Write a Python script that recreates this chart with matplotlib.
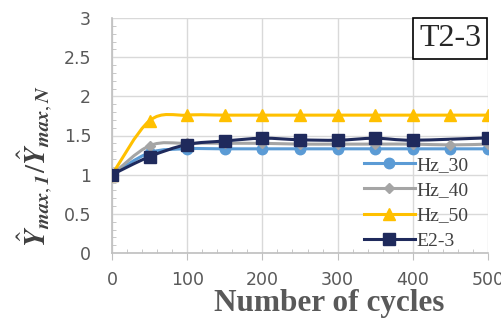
import numpy as np
import matplotlib
matplotlib.use("Agg")
import matplotlib.pyplot as plt
from matplotlib.path import Path
from matplotlib.patches import PathPatch
from matplotlib.lines import Line2D

plt.rcParams["mathtext.fontset"] = "stix"

cycles = [0, 50, 100, 150, 200, 250, 300, 350, 400, 450, 500]
hz_30 = [1.0, 1.28, 1.33, 1.33, 1.33, 1.33, 1.33, 1.33, 1.33, 1.33, 1.33]
hz_40 = [1.0, 1.37, 1.40, 1.40, 1.40, 1.39, 1.39, 1.39, 1.39, 1.38, 1.39]
hz_50 = [1.0, 1.69, 1.76, 1.76, 1.76, 1.76, 1.76, 1.76, 1.76, 1.76, 1.76]
e23_cycles = [0, 50, 100, 150, 200, 250, 300, 350, 400, 500]
e23 = [1.0, 1.23, 1.385, 1.43, 1.465, 1.445, 1.44, 1.465, 1.44, 1.47]


def smooth_path(xs, ys):
    # excel style smoothed line: catmull-rom turned into cubic beziers
    xs = np.asarray(xs, float)
    ys = np.asarray(ys, float)
    pts = np.column_stack([xs, ys])
    verts = [pts[0]]
    codes = [Path.MOVETO]
    n = len(pts)
    for i in range(n - 1):
        p0 = pts[max(i - 1, 0)]
        p1 = pts[i]
        p2 = pts[i + 1]
        p3 = pts[min(i + 2, n - 1)]
        c1 = p1 + (p2 - p0) / 6.0
        c2 = p2 - (p3 - p1) / 6.0
        verts += [c1, c2, p2]
        codes += [Path.CURVE4] * 3
    return Path(verts, codes)


fig = plt.figure(figsize=(5.01, 3.2), dpi=100)
ax = fig.add_axes([112 / 501, 1 - 253 / 320, 376 / 501, 235 / 320])

series = [
    (cycles, hz_30, "Hz_30", "#5B9BD5", "o", 7.5),
    (cycles, hz_40, "Hz_40", "#A5A5A5", "D", 5),
    (cycles, hz_50, "Hz_50", "#FFC000", "^", 8),
    (e23_cycles, e23, "E2-3", "#1F2A5C", "s", 8),
]

handles = []
for xs, ys, name, col, mk, ms in series:
    ax.add_patch(PathPatch(smooth_path(xs, ys), facecolor="none",
                           edgecolor=col, lw=2.2, zorder=3))
    ax.plot(xs, ys, linestyle="none", marker=mk, ms=ms, color=col, zorder=4)
    handles.append(Line2D([], [], color=col, lw=2.2, marker=mk, ms=ms))

ax.set_xlim(0, 500)
ax.set_ylim(0, 3)
ax.set_xticks(range(0, 501, 100))
ax.set_yticks(np.arange(0, 3.01, 0.5))
ax.set_yticklabels(["0", "0.5", "1", "1.5", "2", "2.5", "3"])
ax.set_xticks(range(0, 501, 20), minor=True)
ax.set_yticks(np.arange(0, 3.01, 0.1), minor=True)
ax.grid(True, which="major", color="#D9D9D9", lw=1)
ax.set_axisbelow(True)
for s in ["top", "right"]:
    ax.spines[s].set_visible(False)
for s in ["left", "bottom"]:
    ax.spines[s].set_color("#BFBFBF")
    ax.spines[s].set_linewidth(1.2)
ax.tick_params(which="major", axis="both", colors="#BFBFBF", labelcolor="#595959",
               labelsize=12.5, length=0)
ax.tick_params(which="major", axis="x", length=5, pad=8)
ax.tick_params(which="major", axis="y", pad=15)
ax.tick_params(which="minor", direction="in", length=3, colors="#BFBFBF")

ax.set_xlabel("Number of cycles", family="Liberation Serif", fontweight="bold",
              fontsize=22.5, color="#595959", labelpad=0)
ax.xaxis.set_label_coords(0.577, -0.215)
ax.xaxis.label.set_verticalalignment("center")
ax.set_ylabel(r"$\hat{\mathbfit{Y}}_{\mathbfit{max},\mathbfit{1}}/"
              r"\hat{\mathbfit{Y}}_{\mathbfit{max},\mathbfit{N}}$",
              fontsize=21, color="#404040")
ax.yaxis.set_label_coords(-0.205, 0.37)
ax.yaxis.label.set_verticalalignment("center")

ax.text(0.982, 0.975, "T2-3", transform=ax.transAxes, ha="right", va="top",
        family="Liberation Serif", fontsize=23, color="#262626",
        bbox=dict(boxstyle="square,pad=0.18", fc="white", ec="black", lw=1.2))

leg = ax.legend(handles, [s[2] for s in series], loc="lower right",
                bbox_to_anchor=(0.985, -0.045), frameon=False,
                prop={"family": "Liberation Serif", "size": 14},
                handlelength=2.6, handletextpad=0.1, labelspacing=0.4,
                borderpad=0.2)
for t in leg.get_texts():
    t.set_color("#404040")

fig.savefig("out.png", dpi=100)
